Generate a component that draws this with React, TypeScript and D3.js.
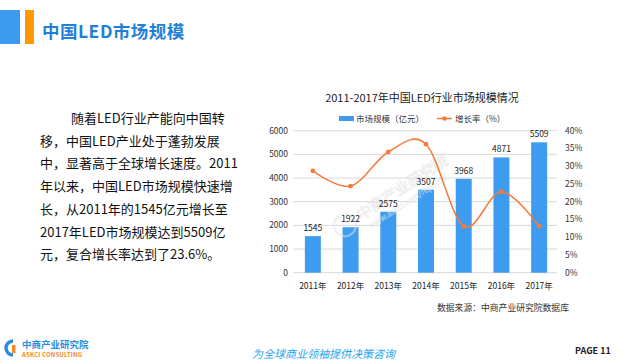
import React from "react";
import * as d3 from "d3";

const years = ["2011年", "2012年", "2013年", "2014年", "2015年", "2016年", "2017年"];
const marketSize = [1545, 1922, 2575, 3507, 3968, 4871, 5509];
const growthRate = [0.287, 0.244, 0.34, 0.362, 0.131, 0.228, 0.131];
const leftTicks = [0, 1000, 2000, 3000, 4000, 5000, 6000];
const rightTicks = [0, 0.05, 0.1, 0.15, 0.2, 0.25, 0.3, 0.35, 0.4];
const paragraph = [
  "随着LED行业产能向中国转",
  "移，中国LED产业处于蓬勃发展",
  "中，显著高于全球增长速度。2011",
  "年以来，中国LED市场规模快速增",
  "长，从2011年的1545亿元增长至",
  "2017年LED市场规模达到5509亿",
  "元，复合增长率达到了23.6%。",
];

const FONT = "'Noto Sans CJK SC', 'DejaVu Sans', sans-serif";
const BLUE = "#3e9cf0";
const ORANGE = "#f47b3b";

export default function App() {
  const x = d3.scaleBand<string>().domain(years).range([294, 558]).paddingInner(0.576).paddingOuter(0.288);
  const yL = d3.scaleLinear().domain([0, 6000]).range([272.7, 130.7]);
  const yR = d3.scaleLinear().domain([0, 0.4]).range([272.7, 130.7]);
  const cx = (i: number) => (x(years[i]) as number) + x.bandwidth() / 2;
  const line = d3
    .line<number>()
    .x((_, i) => cx(i))
    .y((d) => yR(d))
    .curve(d3.curveCatmullRom.alpha(0));
  const linePath = line(growthRate) || "";

  return (
    <svg
      width={625}
      height={360}
      viewBox="0 0 625 360"
      style={{ position: "absolute", left: 0, top: 0, background: "#fff" }}
      fontFamily={FONT}
    >
      {/* header */}
      <rect x={0} y={10} width={20} height={34} fill="#3d9bef" />
      <rect x={25} y={10} width={9} height={34} fill="#ff9900" />
      <text x={42} y={38} fontSize={17.5} fontWeight="bold" fill="#1f80da" letterSpacing={0.5}>
        中国LED市场规模
      </text>

      {/* paragraph */}
      {paragraph.map((t, i) => (
        <text key={i} x={i === 0 ? 71 : 40} y={123 + i * 22.7} fontSize={13} fill="#111">
          {t}
        </text>
      ))}

      {/* chart title */}
      <text x={422} y={102} fontSize={11} textAnchor="middle" fill="#222">
        2011-2017年中国LED行业市场规模情况
      </text>

      {/* legend */}
      <rect x={339} y={116} width={15} height={5} fill={BLUE} />
      <text x={356} y={121.5} fontSize={8.5} fill="#333">
        市场规模（亿元）
      </text>
      <line x1={437} x2={452} y1={118.5} y2={118.5} stroke={ORANGE} strokeWidth={1.5} />
      <circle cx={444.5} cy={118.5} r={2.3} fill={ORANGE} />
      <text x={455} y={121.5} fontSize={8.5} fill="#333">
        增长率（%）
      </text>

      {/* gridlines */}
      {leftTicks.map((t) => (
        <line key={t} x1={293} x2={557} y1={yL(t)} y2={yL(t)} stroke="#d9d9d9" strokeWidth={1} />
      ))}

      {/* left axis labels */}
      {leftTicks.map((t) => (
        <text key={t} x={288} y={yL(t) + 3} fontSize={8.5} textAnchor="end" fill="#333">
          {t}
        </text>
      ))}
      {/* right axis labels */}
      {rightTicks.map((t) => (
        <text key={t} x={565} y={yR(t) + 3} fontSize={8.5} fill="#333">
          {Math.round(t * 100) + "%"}
        </text>
      ))}

      {/* bars */}
      {marketSize.map((v, i) => (
        <rect
          key={i}
          x={x(years[i])}
          y={yL(v)}
          width={x.bandwidth()}
          height={yL(0) - yL(v)}
          fill={BLUE}
        />
      ))}

      {/* watermark */}
      <g transform="translate(350,222) rotate(-33)" opacity={0.55}>
        <circle cx={-6} cy={0} r={11} fill="none" stroke="#e4e4e4" strokeWidth={2} />
        <text x={10} y={5} fontSize={15} fill="none" stroke="#e2e2e2" strokeWidth={1}>
          中商产业研究院
        </text>
        <text x={14} y={17} fontSize={8} fill="none" stroke="#e2e2e2" strokeWidth={0.6}>
          www.askci.com/reports/
        </text>
      </g>

      {/* value labels */}
      {marketSize.map((v, i) => (
        <text key={i} x={cx(i)} y={yL(v) - 5} fontSize={8.5} textAnchor="middle" fill="#222">
          {v}
        </text>
      ))}

      {/* growth line */}
      <path d={linePath} fill="none" stroke={ORANGE} strokeWidth={1.5} />
      {growthRate.map((g, i) => (
        <circle key={i} cx={cx(i)} cy={yR(g)} r={2.4} fill={ORANGE} />
      ))}

      {/* x labels */}
      {years.map((yv, i) => (
        <text key={yv} x={cx(i)} y={289} fontSize={8.5} textAnchor="middle" fill="#222">
          {yv}
        </text>
      ))}

      {/* source */}
      <text x={437} y={311} fontSize={8.8} fill="#333">
        数据来源：中商产业研究院数据库
      </text>

      {/* footer logo */}
      <g>
        <path d="M 13 341 A 7 7 0 1 0 13 355" fill="none" stroke="#2a8ce0" strokeWidth={3.5} />
        <rect x={12} y={345} width={3.5} height={8} fill="#f08a24" />
        <text x={22} y={348} fontSize={9.5} fontWeight="bold" fill="#2a8ce0">
          中商产业研究院
        </text>
        <text x={22} y={356.5} fontSize={6} fontWeight="bold" fill="#f08a24" letterSpacing={0.2}>
          ASKCI CONSULTING
        </text>
      </g>
      <text x={252} y={358} fontSize={11} fontStyle="italic" fill="#1ea6f2">
        为全球商业领袖提供决策咨询
      </text>
      <text x={575} y={354} fontSize={9} fontWeight="bold" fill="#222">
        PAGE 11
      </text>
    </svg>
  );
}
